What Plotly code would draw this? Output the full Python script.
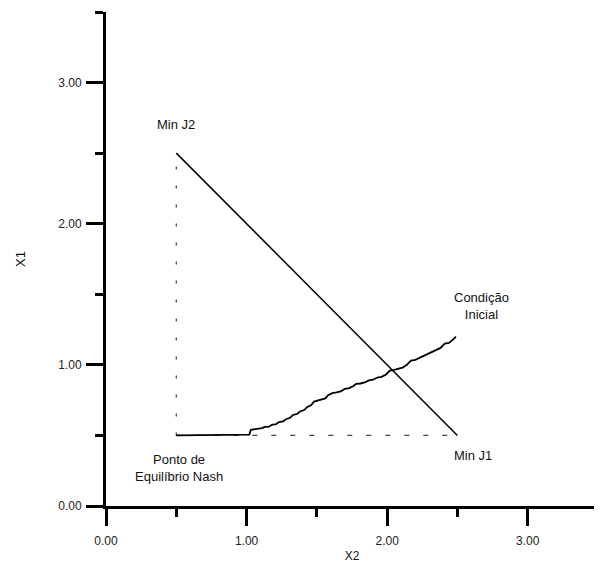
import plotly.graph_objects as go

# Straight line between the two minima
line_x2 = [0.5, 2.5]
line_x1 = [2.5, 0.5]

# Dotted guide lines through the Nash point
guide_v_x2 = [0.5, 0.5]
guide_v_x1 = [0.5, 2.5]
guide_h_x2 = [0.5, 2.5]
guide_h_x1 = [0.5, 0.5]

# Trajectory from initial condition to Nash point
traj_x2 = [0.5, 1.0, 1.02, 1.03, 1.06, 1.08, 1.11, 1.13, 1.16, 1.18, 1.21, 1.23, 1.26,
           1.28, 1.31, 1.33, 1.36, 1.38, 1.41, 1.43, 1.46, 1.48, 1.51, 1.53, 1.56, 1.58,
           1.61, 1.64, 1.67, 1.70, 1.73, 1.76, 1.78, 1.81, 1.84, 1.87, 1.90, 1.93, 1.96,
           1.99, 2.02, 2.05, 2.08, 2.11, 2.14, 2.17, 2.20, 2.23, 2.26, 2.29, 2.32,
           2.35, 2.38, 2.41, 2.44, 2.47, 2.49]
traj_x1 = [0.5, 0.5, 0.505, 0.54, 0.543, 0.55, 0.552, 0.56, 0.562, 0.575, 0.58, 0.595,
           0.60, 0.615, 0.625, 0.645, 0.652, 0.67, 0.68, 0.70, 0.715, 0.74, 0.747, 0.755,
           0.762, 0.785, 0.80, 0.805, 0.812, 0.83, 0.835, 0.85, 0.865, 0.868, 0.875,
           0.89, 0.895, 0.91, 0.915, 0.93, 0.96, 0.965, 0.975, 0.98, 1.0, 1.03, 1.035,
           1.05, 1.06, 1.075, 1.09, 1.105, 1.12, 1.15, 1.155, 1.18, 1.20]

x_ticks = [0, 1, 2, 3]
x_tick_labels = ["0.00", "1.00", "2.00", "3.00"]
y_ticks = [0, 1, 2, 3]
y_tick_labels = ["0.00", "1.00", "2.00", "3.00"]

annotations_text = ["Min J2", "Condição<br>Inicial", "Min J1", "Ponto de<br>Equilíbrio Nash"]
annotations_x = [0.5, 2.67, 2.61, 0.52]
annotations_y = [2.70, 1.42, 0.355, 0.27]

FONT = "Liberation Sans, Arial, sans-serif"

fig = go.Figure()
fig.add_trace(go.Scatter(x=guide_v_x2, y=guide_v_x1, mode="lines",
                         line=dict(color="#333", width=1.2, dash="3px,16px"),
                         showlegend=False, hoverinfo="skip"))
fig.add_trace(go.Scatter(x=guide_h_x2, y=guide_h_x1, mode="lines",
                         line=dict(color="#444", width=1.2, dash="5px,14px"),
                         showlegend=False, hoverinfo="skip"))
fig.add_trace(go.Scatter(x=traj_x2, y=traj_x1, mode="lines",
                         line=dict(color="black", width=1.8),
                         showlegend=False))
fig.add_trace(go.Scatter(x=line_x2, y=line_x1, mode="lines",
                         line=dict(color="black", width=1.5),
                         showlegend=False))

for t, ax, ay in zip(annotations_text, annotations_x, annotations_y):
    fig.add_annotation(x=ax, y=ay, text=t, showarrow=False,
                       font=dict(family=FONT, size=13, color="#111"),
                       xanchor="center", yanchor="middle", align="center")

axis_common = dict(
    range=[0, 3.5], showgrid=False, zeroline=False, automargin=False,
    showline=True, linecolor="black", linewidth=3,
    ticks="outside", ticklen=17, tickwidth=3, tickcolor="black",
    tickfont=dict(family=FONT, size=12, color="#222"),
    minor=dict(dtick=0.5, ticks="outside", ticklen=8, tickwidth=3, tickcolor="black"),
)

fig.update_layout(
    width=602, height=567,
    margin=dict(l=98, r=12, t=4, b=69),
    plot_bgcolor="white", paper_bgcolor="white",
    xaxis=dict(**axis_common, tickvals=x_ticks, ticktext=x_tick_labels, ticklabelstandoff=5,
               title=dict(text="X2", font=dict(family=FONT, size=12, color="#111"), standoff=5)),
    yaxis=dict(**axis_common, tickvals=y_ticks, ticktext=y_tick_labels, ticklabelstandoff=2,
               title=dict(text="X1", font=dict(family=FONT, size=13, color="#111"), standoff=30)),
)

fig.write_html("out.html")
